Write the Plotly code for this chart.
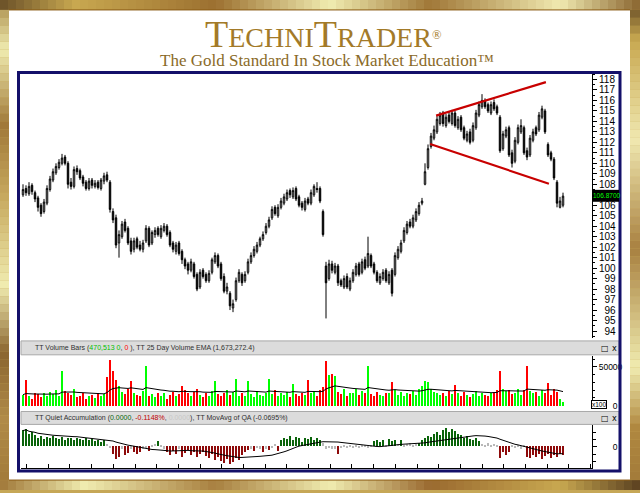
import plotly.graph_objects as go
import pandas as pd

# ---------------- data ----------------
opens = [
    107.0, 107.6, 107.1, 107.9, 107.2, 106.7, 106.0, 105.4, 106.2, 107.5,
    108.4, 109.1, 109.6, 110.0, 110.6, 110.0, 108.2, 107.8, 109.5, 109.3,
    108.7, 108.2, 107.6, 108.4, 107.8, 108.2, 107.6, 108.3, 108.9, 108.2,
    105.4, 104.8, 102.4, 103.0, 104.4, 103.8, 102.6, 101.8, 102.8, 102.2,
    101.8, 102.6, 103.8, 102.4, 103.2, 103.8, 103.0, 103.6, 104.0, 103.4,
    102.4, 101.6, 102.4, 101.6, 100.8, 100.4, 99.8, 100.4, 99.4, 98.2,
    99.8, 99.4, 98.8, 99.6, 100.6, 101.2, 100.4, 99.2, 97.8, 97.6,
    96.2, 97.0, 98.8, 99.4, 98.8, 99.6, 100.6, 101.2, 101.6, 102.2,
    102.8, 103.4, 104.0, 104.8, 105.8, 105.0, 105.8, 106.2, 106.6, 107.4,
    106.8, 107.6, 106.8, 106.2, 105.6, 106.6, 106.2, 107.0, 107.6, 107.6,
    105.4, 100.2, 99.0, 100.4, 99.6, 100.2, 98.8, 98.2, 99.2, 98.0,
    98.8, 99.4, 100.4, 99.6, 100.8, 100.2, 101.2, 100.4, 99.6, 98.6,
    99.0, 99.8, 98.6, 99.8, 99.4, 101.0, 101.6, 102.6, 103.4, 104.4,
    104.0, 104.6, 105.2, 106.2, 108.0, 109.6, 111.6, 112.4, 113.0, 113.8,
    114.8, 113.6, 114.6, 113.8, 114.8, 113.4, 114.4, 113.4, 112.2, 113.0,
    112.2, 113.4, 114.6, 115.4, 116.0, 115.6, 114.8, 115.8, 115.4, 114.4,
    111.4, 112.6, 113.4, 111.0, 110.2, 112.0, 113.0, 113.4, 111.2, 110.8,
    112.2, 113.4, 113.2, 114.4, 115.0, 111.8, 111.0, 110.4, 108.2, 105.8,
    106.0,
]
highs = [
    108.0, 107.9, 108.2, 108.1, 107.4, 106.9, 106.2, 106.6, 107.9, 108.8,
    109.5, 110.0, 110.4, 110.9, 110.8, 110.2, 108.6, 109.7, 109.8, 109.5,
    108.9, 108.4, 108.6, 108.6, 108.4, 108.4, 108.6, 109.1, 109.2, 108.4,
    105.7, 105.1, 103.6, 104.5, 104.7, 104.0, 102.9, 102.9, 103.0, 102.6,
    102.7, 104.1, 104.0, 103.6, 103.9, 104.0, 104.1, 104.3, 104.2, 103.6,
    102.6, 102.5, 102.6, 101.8, 101.0, 100.6, 100.9, 100.6, 99.6, 99.9,
    100.0, 99.6, 99.8, 101.0, 101.5, 101.4, 100.6, 99.5, 98.6, 97.8,
    97.0, 99.1, 99.9, 99.6, 99.7, 100.9, 101.5, 102.1, 102.5, 103.0,
    103.5, 104.3, 104.9, 105.9, 106.0, 106.1, 106.7, 107.1, 107.5, 107.6,
    107.7, 107.8, 107.0, 106.4, 106.7, 106.8, 107.5, 108.0, 108.2, 107.8,
    105.6, 100.6, 100.8, 100.7, 100.5, 100.4, 99.0, 99.3, 99.5, 99.1,
    99.9, 100.5, 100.6, 100.9, 101.1, 103.0, 101.4, 100.6, 99.8, 99.5,
    99.9, 100.0, 99.7, 100.0, 101.5, 102.1, 102.7, 103.9, 104.5, 104.7,
    105.1, 105.7, 106.3, 106.7, 110.0, 111.8, 112.9, 113.6, 114.5, 114.9,
    115.0, 114.7, 114.9, 115.1, 115.0, 114.5, 114.6, 113.6, 113.1, 113.3,
    113.9, 115.1, 115.9, 116.6, 116.2, 115.8, 115.9, 116.1, 115.6, 114.6,
    113.1, 113.5, 113.6, 111.3, 112.5, 113.7, 114.2, 113.6, 111.5, 112.7,
    113.3, 113.6, 114.9, 115.5, 115.2, 112.0, 111.2, 110.6, 108.4, 106.8,
    107.2,
]
lows = [
    106.8, 106.9, 106.9, 107.0, 106.3, 105.4, 104.9, 105.2, 106.0, 107.3,
    108.2, 108.9, 109.4, 109.8, 109.8, 107.6, 107.5, 107.6, 108.9, 108.4,
    107.8, 107.4, 107.4, 107.6, 107.6, 107.5, 107.4, 108.0, 108.2, 105.3,
    104.3, 101.9, 101.0, 102.8, 103.4, 102.2, 101.3, 101.5, 101.8, 101.6,
    101.5, 102.4, 102.0, 102.2, 102.9, 103.0, 102.8, 103.4, 103.0, 102.0,
    101.5, 101.3, 101.2, 100.4, 99.9, 99.4, 99.6, 99.0, 97.8, 98.0,
    99.0, 98.6, 98.6, 99.4, 100.4, 100.0, 98.8, 97.6, 97.5, 96.0,
    95.8, 96.8, 98.6, 98.3, 98.6, 99.4, 100.4, 101.0, 101.4, 102.0,
    102.6, 103.2, 103.8, 104.6, 105.0, 104.8, 105.6, 106.0, 106.4, 106.7,
    106.6, 106.4, 105.8, 105.5, 105.4, 106.0, 106.0, 106.8, 107.2, 106.2,
    103.0, 95.2, 98.8, 99.5, 99.4, 98.3, 98.2, 98.0, 98.0, 97.8,
    98.6, 99.2, 99.2, 99.4, 99.8, 100.0, 100.0, 99.4, 98.6, 98.4,
    98.8, 98.6, 98.4, 97.3, 99.2, 100.8, 101.4, 102.4, 103.2, 103.8,
    103.8, 104.4, 105.0, 106.0, 107.9, 109.4, 111.4, 112.2, 112.8, 113.6,
    113.5, 113.4, 113.8, 113.6, 113.4, 113.2, 113.0, 112.2, 112.0, 111.8,
    112.0, 113.2, 114.4, 115.2, 115.2, 114.8, 114.6, 115.0, 114.6, 111.0,
    111.2, 112.4, 110.6, 109.6, 110.0, 111.8, 112.8, 110.8, 110.3, 110.6,
    112.0, 112.6, 113.0, 114.2, 112.8, 110.6, 110.2, 108.4, 105.8, 105.7,
    105.8,
]
closes = [
    107.5, 107.2, 107.8, 107.3, 106.6, 105.8, 105.2, 106.3, 107.6, 108.5,
    109.2, 109.7, 110.1, 110.5, 110.0, 108.0, 107.8, 109.4, 109.2, 108.6,
    108.1, 107.6, 108.3, 107.9, 108.1, 107.7, 108.4, 108.8, 108.4, 105.6,
    104.6, 102.2, 103.2, 104.2, 103.6, 102.4, 101.6, 102.6, 102.0, 101.8,
    102.4, 103.8, 102.2, 103.4, 103.6, 103.2, 103.8, 104.0, 103.2, 102.2,
    101.8, 102.2, 101.4, 100.8, 100.2, 99.8, 100.6, 99.2, 98.0, 99.6,
    99.2, 98.8, 99.5, 100.8, 101.2, 100.2, 99.0, 97.8, 98.2, 96.4,
    96.6, 98.8, 99.6, 98.6, 99.4, 100.6, 101.2, 101.8, 102.2, 102.8,
    103.2, 104.0, 104.6, 105.6, 105.2, 105.8, 106.4, 106.8, 107.2, 107.0,
    107.4, 106.6, 106.0, 105.8, 106.4, 106.2, 107.2, 107.8, 107.5, 106.4,
    103.2, 98.6, 100.4, 99.8, 100.2, 98.6, 98.4, 99.0, 98.2, 98.8,
    99.6, 100.2, 99.4, 100.6, 100.0, 101.4, 100.2, 99.6, 98.8, 99.2,
    99.6, 98.8, 99.4, 97.6, 101.2, 101.8, 102.4, 103.6, 104.2, 104.0,
    104.8, 105.4, 106.0, 106.4, 109.2, 111.4, 112.6, 113.2, 114.2, 114.6,
    113.8, 114.4, 114.0, 114.8, 113.6, 114.2, 113.2, 112.4, 112.8, 112.0,
    113.6, 114.8, 115.6, 116.0, 115.4, 115.0, 115.6, 115.2, 114.8, 111.2,
    112.8, 113.2, 110.8, 110.0, 112.2, 113.4, 113.6, 111.0, 110.6, 112.4,
    113.0, 112.8, 114.6, 115.2, 113.0, 110.8, 110.4, 108.6, 106.2, 106.4,
    106.87,
]
volumes = [  # in hundreds of shares
    14000, 33000, 12000, 9000, 16000, 15000, 11000, 17000, 13000, 18000,
    15000, 20000, 12000, 45000, 19000, 17000, 14000, 21000, 11000, 13000,
    16000, 9000, 12000, 14000, 10000, 17000, 12000, 15000, 37000, 59000,
    45000, 33000, 26000, 18000, 15000, 22000, 32000, 16000, 14000, 12000,
    19000, 51000, 13000, 15000, 11000, 17000, 12000, 16000, 9000, 14000,
    18000, 13000, 15000, 26000, 20000, 16000, 12000, 18000, 21000, 14000,
    11000, 16000, 13000, 19000, 32000, 15000, 12000, 17000, 20000, 14000,
    18000, 35000, 13000, 16000, 12000, 32000, 15000, 11000, 19000, 14000,
    13000, 17000, 35000, 15000, 20000, 12000, 16000, 14000, 18000, 11000,
    28000, 15000, 12000, 17000, 14000, 33000, 16000, 19000, 13000, 20000,
    24000, 58000, 40000, 41000, 38000, 18000, 15000, 22000, 13000, 17000,
    16000, 21000, 14000, 19000, 17000, 51000, 15000, 12000, 18000, 14000,
    13000, 17000, 16000, 31000, 20000, 14000, 18000, 12000, 16000, 15000,
    19000, 14000, 21000, 25000, 32000, 31000, 22000, 18000, 16000, 14000,
    17000, 13000, 19000, 15000, 27000, 16000, 12000, 18000, 14000, 11000,
    15000, 19000, 13000, 17000, 14000, 12000, 16000, 18000, 20000, 45000,
    21000, 19000, 20000, 15000, 17000, 21000, 14000, 20000, 51000, 19000,
    16000, 18000, 13000, 20000, 17000, 29000, 14000, 22000, 18000, 9000,
    5000,
]
quiet_acc = [  # percent
    0.22, 0.24, 0.17, 0.20, 0.15, 0.12, 0.14, 0.10, 0.13, 0.11,
    0.14, 0.12, 0.10, 0.13, 0.09, 0.12, 0.11, 0.08, 0.12, 0.10,
    0.09, 0.11, 0.08, 0.10, 0.07, 0.09, 0.06, 0.08, 0.03, -0.02,
    -0.10, -0.17, -0.14, -0.04, -0.12, -0.09, -0.03, -0.08, -0.11, -0.07,
    -0.04, -0.02, -0.06, 0.02, 0.03, 0.07, 0.02, -0.03, -0.08, -0.12,
    -0.06, -0.10, -0.04, -0.14, -0.09, -0.05, -0.12, -0.07, -0.15, -0.10,
    -0.08, -0.13, -0.16, -0.11, -0.18, -0.14, -0.20, -0.22, -0.17, -0.24,
    -0.21, -0.16, -0.19, -0.12, -0.08, -0.05, -0.03, -0.06, -0.02, -0.04,
    -0.07, -0.03, -0.05, -0.02, 0.03, -0.06, 0.08, 0.12, 0.10, 0.14,
    0.09, 0.13, 0.11, 0.06, 0.12, 0.10, 0.13, 0.08, 0.11, 0.09,
    0.04, -0.03, -0.02, -0.04, -0.03, -0.10, -0.02, 0.02, -0.02, 0.01,
    -0.02, 0.02, -0.01, 0.01, 0.02, -0.02, 0.01, 0.07, 0.09, 0.06,
    0.08, 0.02, 0.10, 0.07, 0.09, 0.03, 0.08, 0.02, 0.03, 0.04,
    0.02, 0.03, 0.05, 0.08, 0.11, 0.14, 0.13, 0.17, 0.20, 0.16,
    0.22, 0.25, 0.19, 0.23, 0.21, 0.17, 0.15, 0.12, 0.14, 0.10,
    0.09, 0.11, 0.07, 0.03, 0.02, 0.04, 0.02, 0.03, 0.01, -0.16,
    -0.08, -0.12, -0.07, 0.02, -0.02, 0.01, -0.03, 0.02, -0.14, -0.16,
    -0.12, -0.15, -0.10, -0.17, -0.13, -0.11, -0.16, -0.12, -0.14, -0.10,
    -0.1148,
]
# hand-drawn trend lines (bar index, price)
upper_trend_x = [137.7, 174.3]
upper_trend_y = [114.55, 117.75]
lower_trend_x = [135.7, 175.3]
lower_trend_y = [111.85, 108.05]

price_ticks = [v for v in range(94, 119) if v != 107]   # 107 sits under the last-price box
last_price_label = "106.8700"

N = len(closes)
assert all(len(a) == N for a in (opens, highs, lows, volumes, quiet_acc))
bars = list(range(N))

vol_ema = pd.Series(volumes, dtype=float).ewm(span=25, adjust=False).mean().tolist()
qa_ma = pd.Series(quiet_acc, dtype=float).rolling(20, min_periods=1).mean().tolist()

# ---------------- layout helpers ----------------
W, H = 640, 493
def fx(p):
    return p / W
def fy(p):
    return 1 - p / H

X0, X1 = 21, 592
BAR_PX = 3.0
x_range = [-(23 - X0) / BAR_PX, (X1 - 23) / BAR_PX]

AX_FONT = dict(family="Liberation Sans, Arial", size=10, color="black")
AX_FONT_S = dict(family="Liberation Sans, Arial", size=8.5, color="black")
FS = "\u2007"

fig = go.Figure()

fig.add_trace(go.Candlestick(
    x=bars, open=opens, high=highs, low=lows, close=closes,
    increasing=dict(line=dict(color="black", width=1), fillcolor="white"),
    decreasing=dict(line=dict(color="black", width=1), fillcolor="black"),
    whiskerwidth=0, showlegend=False, hoverinfo="skip", xaxis="x", yaxis="y"))

for tx, ty in ((upper_trend_x, upper_trend_y), (lower_trend_x, lower_trend_y)):
    fig.add_trace(go.Scatter(x=tx, y=ty, mode="lines", line=dict(color="#c80000", width=2.2),
                             showlegend=False, hoverinfo="skip", xaxis="x", yaxis="y"))

vol_colors = ["#00ff00" if c >= o else "#ff0000" for o, c in zip(opens, closes)]
fig.add_trace(go.Bar(x=bars, y=volumes, marker=dict(color=vol_colors, line=dict(width=0)),
                     width=0.55, showlegend=False, hoverinfo="skip", xaxis="x2", yaxis="y2"))
fig.add_trace(go.Scatter(x=bars, y=vol_ema, mode="lines", line=dict(color="black", width=1),
                         showlegend=False, hoverinfo="skip", xaxis="x2", yaxis="y2"))

qa_colors = ["#0a640a" if q > 0.04 else ("#8e0a0a" if q < -0.04 else "#b8b8b8") for q in quiet_acc]
fig.add_trace(go.Bar(x=bars, y=quiet_acc, marker=dict(color=qa_colors, line=dict(width=0)),
                     width=0.55, showlegend=False, hoverinfo="skip", xaxis="x3", yaxis="y3"))
fig.add_trace(go.Scatter(x=bars, y=qa_ma, mode="lines", line=dict(color="black", width=1),
                         showlegend=False, hoverinfo="skip", xaxis="x3", yaxis="y3"))

xcommon = dict(range=x_range, domain=[fx(X0), fx(X1)], showgrid=False, zeroline=False,
               showticklabels=False, fixedrange=True)

price_text = [f"{v:>3}".replace(" ", FS) for v in price_ticks]
VOL_RANGE = [-2560, 64100]

fig.update_layout(
    width=W, height=H, autosize=False,
    margin=dict(l=0, r=0, t=0, b=0),
    paper_bgcolor="#c6a757", plot_bgcolor="rgba(0,0,0,0)",
    bargap=0, hovermode=False,
    xaxis=dict(**xcommon, anchor="y", rangeslider=dict(visible=False), ticks=""),
    xaxis2=dict(**xcommon, anchor="y2", matches="x", ticks=""),
    xaxis3=dict(**xcommon, anchor="y3", matches="x", showline=True, linecolor="black", linewidth=1,
                ticks="inside", ticklen=4, tickcolor="black", tick0=1.2, dtick=7.23),
    yaxis=dict(domain=[fy(340), fy(73)], range=[93.34, 118.66], side="right", anchor="x",
               showgrid=False, zeroline=False, showline=True, linecolor="black", linewidth=1,
               tickmode="array", tickvals=price_ticks, ticktext=price_text,
               ticks="outside", ticklen=4, tickcolor="black", tickfont=AX_FONT,
               minor=dict(ticks="outside", ticklen=2, dtick=0.5, tick0=0, tickcolor="black"),
               fixedrange=True),
    yaxis2=dict(domain=[fy(410), fy(358)], range=VOL_RANGE, side="right", anchor="x2",
                showgrid=False, zeroline=False, showline=True, linecolor="black", linewidth=1,
                tickmode="array", tickvals=[50000], ticktext=["50000"],
                ticks="outside", ticklen=4, tickcolor="black", tickfont=AX_FONT_S,
                minor=dict(ticks="outside", ticklen=2, dtick=10000, tick0=0, tickcolor="black"),
                fixedrange=True),
    yaxis4=dict(overlaying="y2", range=VOL_RANGE, side="right", anchor="x2",
                showgrid=False, zeroline=False, showline=False,
                tickmode="array", tickvals=[0], ticktext=["0"],
                ticks="outside", ticklen=4, tickcolor="black", tickfont=AX_FONT_S,
                ticklabelstandoff=14, fixedrange=True),
    yaxis3=dict(domain=[fy(471), fy(428)], range=[-0.29, 0.29], side="right", anchor="x3",
                showgrid=False, zeroline=False, showline=True, linecolor="black", linewidth=1,
                tickmode="array", tickvals=[0], ticktext=["0"],
                ticks="outside", ticklen=4, tickcolor="black", tickfont=AX_FONT_S,
                ticklabelstandoff=14,
                minor=dict(ticks="outside", ticklen=3, dtick=0.1, tick0=0, tickcolor="black"),
                fixedrange=True),
)
# dummy trace so the overlay axis is drawn
fig.add_trace(go.Scatter(x=[None], y=[None], xaxis="x2", yaxis="y4", showlegend=False, hoverinfo="skip"))

# ---------------- decoration: gold frame with gradient ----------------
def hex2rgb(h):
    h = h.lstrip("#")
    return tuple(int(h[i:i + 2], 16) for i in (0, 2, 4))

def color_at(stops, t):
    for (a, ca), (b, cb) in zip(stops, stops[1:]):
        if a <= t <= b:
            f = (t - a) / (b - a) if b > a else 0
            r1, r2 = hex2rgb(ca), hex2rgb(cb)
            return "#%02x%02x%02x" % tuple(round(u + (v - u) * f) for u, v in zip(r1, r2))
    return stops[-1][1]

top_stops = [(0, "#6a5028"), (75, "#c8a850"), (215, "#9c7030"), (330, "#f0ecb0"),
             (430, "#a07838"), (560, "#f0eab0"), (640, "#8a6530")]
bot_stops = [(0, "#a07838"), (85, "#f0ecb0"), (215, "#a88040"), (330, "#f0ecb0"),
             (430, "#9a6a30"), (560, "#c8a850"), (640, "#5a4020")]
left_stops = [(0, "#6a5028"), (12, "#b8a060"), (50, "#f0ecb0"), (125, "#a07838"), (200, "#c8aa60"),
              (287, "#f0ecb0"), (355, "#8a6530"), (420, "#b08a48"), (493, "#a07838")]
right_stops = [(0, "#5a4020"), (40, "#c8a850"), (140, "#f0e8b0"), (250, "#a88040"),
               (370, "#f0ecb0"), (430, "#b08840"), (493, "#a07838")]

shapes = []
STEP = 8
for p in range(0, 640, STEP):
    shapes.append(dict(type="rect", xref="paper", yref="paper", x0=fx(p), x1=fx(min(p + STEP, 640)),
                       y0=fy(10), y1=fy(0), fillcolor=color_at(top_stops, p + STEP / 2),
                       line=dict(width=0), layer="below"))
    shapes.append(dict(type="rect", xref="paper", yref="paper", x0=fx(p), x1=fx(min(p + STEP, 640)),
                       y0=fy(493), y1=fy(483), fillcolor=color_at(bot_stops, p + STEP / 2),
                       line=dict(width=0), layer="below"))
for p in range(10, 483, STEP):
    shapes.append(dict(type="rect", xref="paper", yref="paper", x0=fx(0), x1=fx(9),
                       y0=fy(min(p + STEP, 483)), y1=fy(p), fillcolor=color_at(left_stops, p + STEP / 2),
                       line=dict(width=0), layer="below"))
    shapes.append(dict(type="rect", xref="paper", yref="paper", x0=fx(630), x1=fx(640),
                       y0=fy(min(p + STEP, 483)), y1=fy(p), fillcolor=color_at(right_stops, p + STEP / 2),
                       line=dict(width=0), layer="below"))
# white inner card
shapes.append(dict(type="rect", xref="paper", yref="paper", x0=fx(9), x1=fx(630), y0=fy(483), y1=fy(10),
                   fillcolor="white", line=dict(width=0), layer="below"))
for yy in (10, 483):
    shapes.append(dict(type="line", xref="paper", yref="paper", x0=fx(9), x1=fx(630), y0=fy(yy), y1=fy(yy),
                       line=dict(color="#8a5a14", width=1), layer="below"))
# navy chart border
shapes.append(dict(type="rect", xref="paper", yref="paper", x0=fx(18.5), x1=fx(620), y0=fy(474), y1=fy(73),
                   fillcolor="rgba(0,0,0,0)", line=dict(color="#14106a", width=3), layer="above"))
# panel header strips
for top, bot in ((343, 357), (414, 427)):
    shapes.append(dict(type="rect", xref="paper", yref="paper", x0=fx(21), x1=fx(619), y0=fy(bot), y1=fy(top),
                       fillcolor="#dcdcdc", line=dict(color="#a8a8a8", width=1), layer="below"))
# current price box
shapes.append(dict(type="rect", xref="paper", yref="paper", x0=fx(593), x1=fx(619), y0=fy(203), y1=fy(191),
                   fillcolor="black", line=dict(width=0), layer="above"))
fig.update_layout(shapes=shapes)

ann = []
ann.append(dict(xref="paper", yref="paper", x=fx(323), y=fy(34), xanchor="center", yanchor="middle",
                showarrow=False,
                text="<span style='font-size:38px'>T</span>ECHNI<span style='font-size:38px'>T</span>RADER<span style='font-size:18px'><sup>®</sup></span>",
                font=dict(family="Liberation Serif, Times New Roman, serif", size=28, color="#a37a28")))
ann.append(dict(xref="paper", yref="paper", x=fx(327), y=fy(61), xanchor="center", yanchor="middle",
                showarrow=False, text="The Gold Standard In Stock Market Education™",
                font=dict(family="Liberation Serif, Times New Roman, serif", size=17, color="#8a6a28")))
HDR_FONT = dict(family="Liberation Sans, Arial", size=7, color="#303030")
ann.append(dict(xref="paper", yref="paper", x=fx(33), y=fy(350.5), xanchor="left", yanchor="middle",
                showarrow=False, font=HDR_FONT,
                text="TT Volume Bars (<span style='color:#00c000'>470,513 0</span>, "
                     "<span style='color:#ff0000'>0</span> ), TT 25 Day Volume EMA (1,673,272.4)"))
ann.append(dict(xref="paper", yref="paper", x=fx(33), y=fy(421), xanchor="left", yanchor="middle",
                showarrow=False, font=HDR_FONT,
                text="TT Quiet Accumulation (<span style='color:#0a640a'>0.0000</span>, "
                     "<span style='color:#c00000'>-0.1148%</span>, "
                     "<span style='color:#c8c8c8'>0.0000</span>), TT MovAvg of QA (-0.0695%)"))
for yy in (350.5, 421):
    ann.append(dict(xref="paper", yref="paper", x=fx(605), y=fy(yy), xanchor="center", yanchor="middle",
                    showarrow=False, text="□", font=dict(family="DejaVu Sans", size=8, color="black")))
    ann.append(dict(xref="paper", yref="paper", x=fx(614), y=fy(yy), xanchor="center", yanchor="middle",
                    showarrow=False, text="x", font=dict(family="DejaVu Sans", size=8, color="black")))
ann.append(dict(xref="paper", yref="paper", x=fx(606), y=fy(197), xanchor="center", yanchor="middle",
                showarrow=False, text=last_price_label,
                font=dict(family="Liberation Sans, Arial", size=6.5, color="#00ff00")))
ann.append(dict(xref="paper", yref="paper", x=fx(599), y=fy(407), xanchor="center", yanchor="middle",
                showarrow=False, text="x100", bgcolor="white", bordercolor="black", borderwidth=1, borderpad=0,
                font=dict(family="Liberation Sans, Arial", size=6.5, color="black")))
fig.update_layout(annotations=ann)

fig.write_html("out.html", config={"displayModeBar": False},
               post_script="document.body.style.margin='0px';")
